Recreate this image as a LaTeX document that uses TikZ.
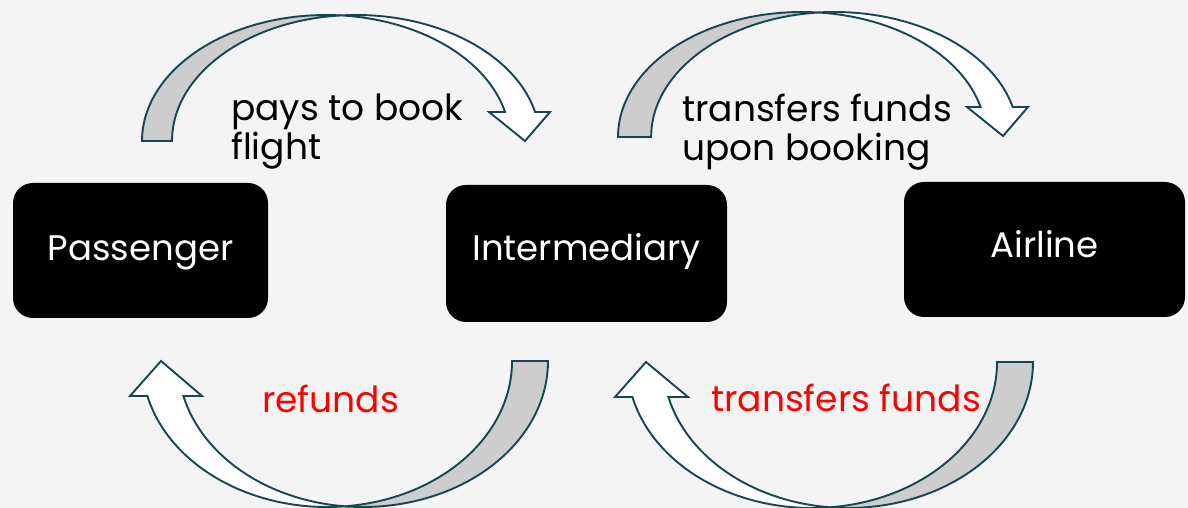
\documentclass[tikz,border=0pt]{standalone}
\usepackage{fontspec}
\setmainfont{Poppins}
\definecolor{bg}{HTML}{F4F4F4}
\definecolor{edge}{HTML}{174552}
\definecolor{back}{HTML}{CDCDCD}
\definecolor{lblred}{HTML}{FF0000}
\begin{document}
\begin{tikzpicture}[x=1pt,y=1pt,
  box/.style={fill=black, rounded corners=20pt, text=white, inner sep=0pt,
    font=\fontsize{35.5}{37}\selectfont, text depth=0pt},
  lab/.style={inner sep=0pt, align=left, font=\fontsize{36}{39}\selectfont},
  front/.style={fill=white, draw=edge, line width=1.9pt, line join=miter},
  rear/.style={fill=back, draw=edge, line width=1.9pt, line join=miter}]
\fill[bg] (0,0) rectangle (1188,508);
\useasboundingbox (0,0) rectangle (1188,508);

% boxes
\node[box, minimum width=255pt, minimum height=135pt, text height=21pt] (pass) at (140.5,257.5) {Passenger};
\node[box, minimum width=281pt, minimum height=137pt, text height=15pt] (inter) at (586.5,254.5) {Intermediary};
\node[box, minimum width=281pt, minimum height=135pt, text height=17pt] (air) at (1044.5,258.5) {Airline};

% top-left curved arrow (Passenger -> Intermediary)
\draw[rear] (142,367) arc[start angle=180, end angle=85.32, x radius=184pt, y radius=126pt]
  arc[start angle=94.68, end angle=180, x radius=184pt, y radius=126pt] -- cycle;
\draw[front] (341,492.58) arc[start angle=94.68, end angle=13.31, x radius=184pt, y radius=126pt]
  -- (550,396) -- (525,367) -- (489,396) -- (505.05,396)
  arc[start angle=13.31, end angle=85.32, x radius=184pt, y radius=126pt] -- cycle;

% top-right curved arrow (Intermediary -> Airline)
\draw[rear] (618,371) arc[start angle=180, end angle=84.83, x radius=184pt, y radius=125pt]
  arc[start angle=95.17, end angle=180, x radius=184pt, y radius=125pt] -- cycle;
\draw[front] (817.5,495.5) arc[start angle=95.17, end angle=13.89, x radius=184pt, y radius=125pt]
  -- (1028,401) -- (1003,372) -- (967,401) -- (980.6,401)
  arc[start angle=13.89, end angle=84.83, x radius=184pt, y radius=125pt] -- cycle;

% bottom-left curved arrow (Intermediary -> Passenger)
\draw[rear] (548,147) arc[start angle=0, end angle=-95.58, x radius=185pt, y radius=146pt]
  arc[start angle=-84.42, end angle=0, x radius=185pt, y radius=146pt] -- cycle;
\draw[front] (345,1.7) arc[start angle=-84.42, end angle=-166.13, x radius=185pt, y radius=146pt]
  -- (130,112) -- (161,147) -- (202,112) -- (183.4,112)
  arc[start angle=-166.13, end angle=-95.58, x radius=185pt, y radius=146pt] -- cycle;

% bottom-right curved arrow (Airline -> Intermediary)
\draw[rear] (1033,146) arc[start angle=0, end angle=-95.58, x radius=185pt, y radius=146pt]
  arc[start angle=-84.42, end angle=0, x radius=185pt, y radius=146pt] -- cycle;
\draw[front] (830,0.7) arc[start angle=-84.42, end angle=-166.13, x radius=185pt, y radius=146pt]
  -- (615,111) -- (646,146) -- (688,111) -- (668.4,111)
  arc[start angle=-166.13, end angle=-95.58, x radius=185pt, y radius=146pt] -- cycle;

% labels (base anchor = baseline of the last line)
\node[lab, anchor=base west] (l1) at (231,348) {pays to book\\flight};
\node[lab, anchor=base west] (l2) at (682,347) {transfers funds\\upon booking};
\node[lab, anchor=base west, text=lblred] (l3) at (262,95) {refunds};
\node[lab, anchor=base west, text=lblred] (l4) at (711,96) {transfers funds};
\end{tikzpicture}
\end{document}
